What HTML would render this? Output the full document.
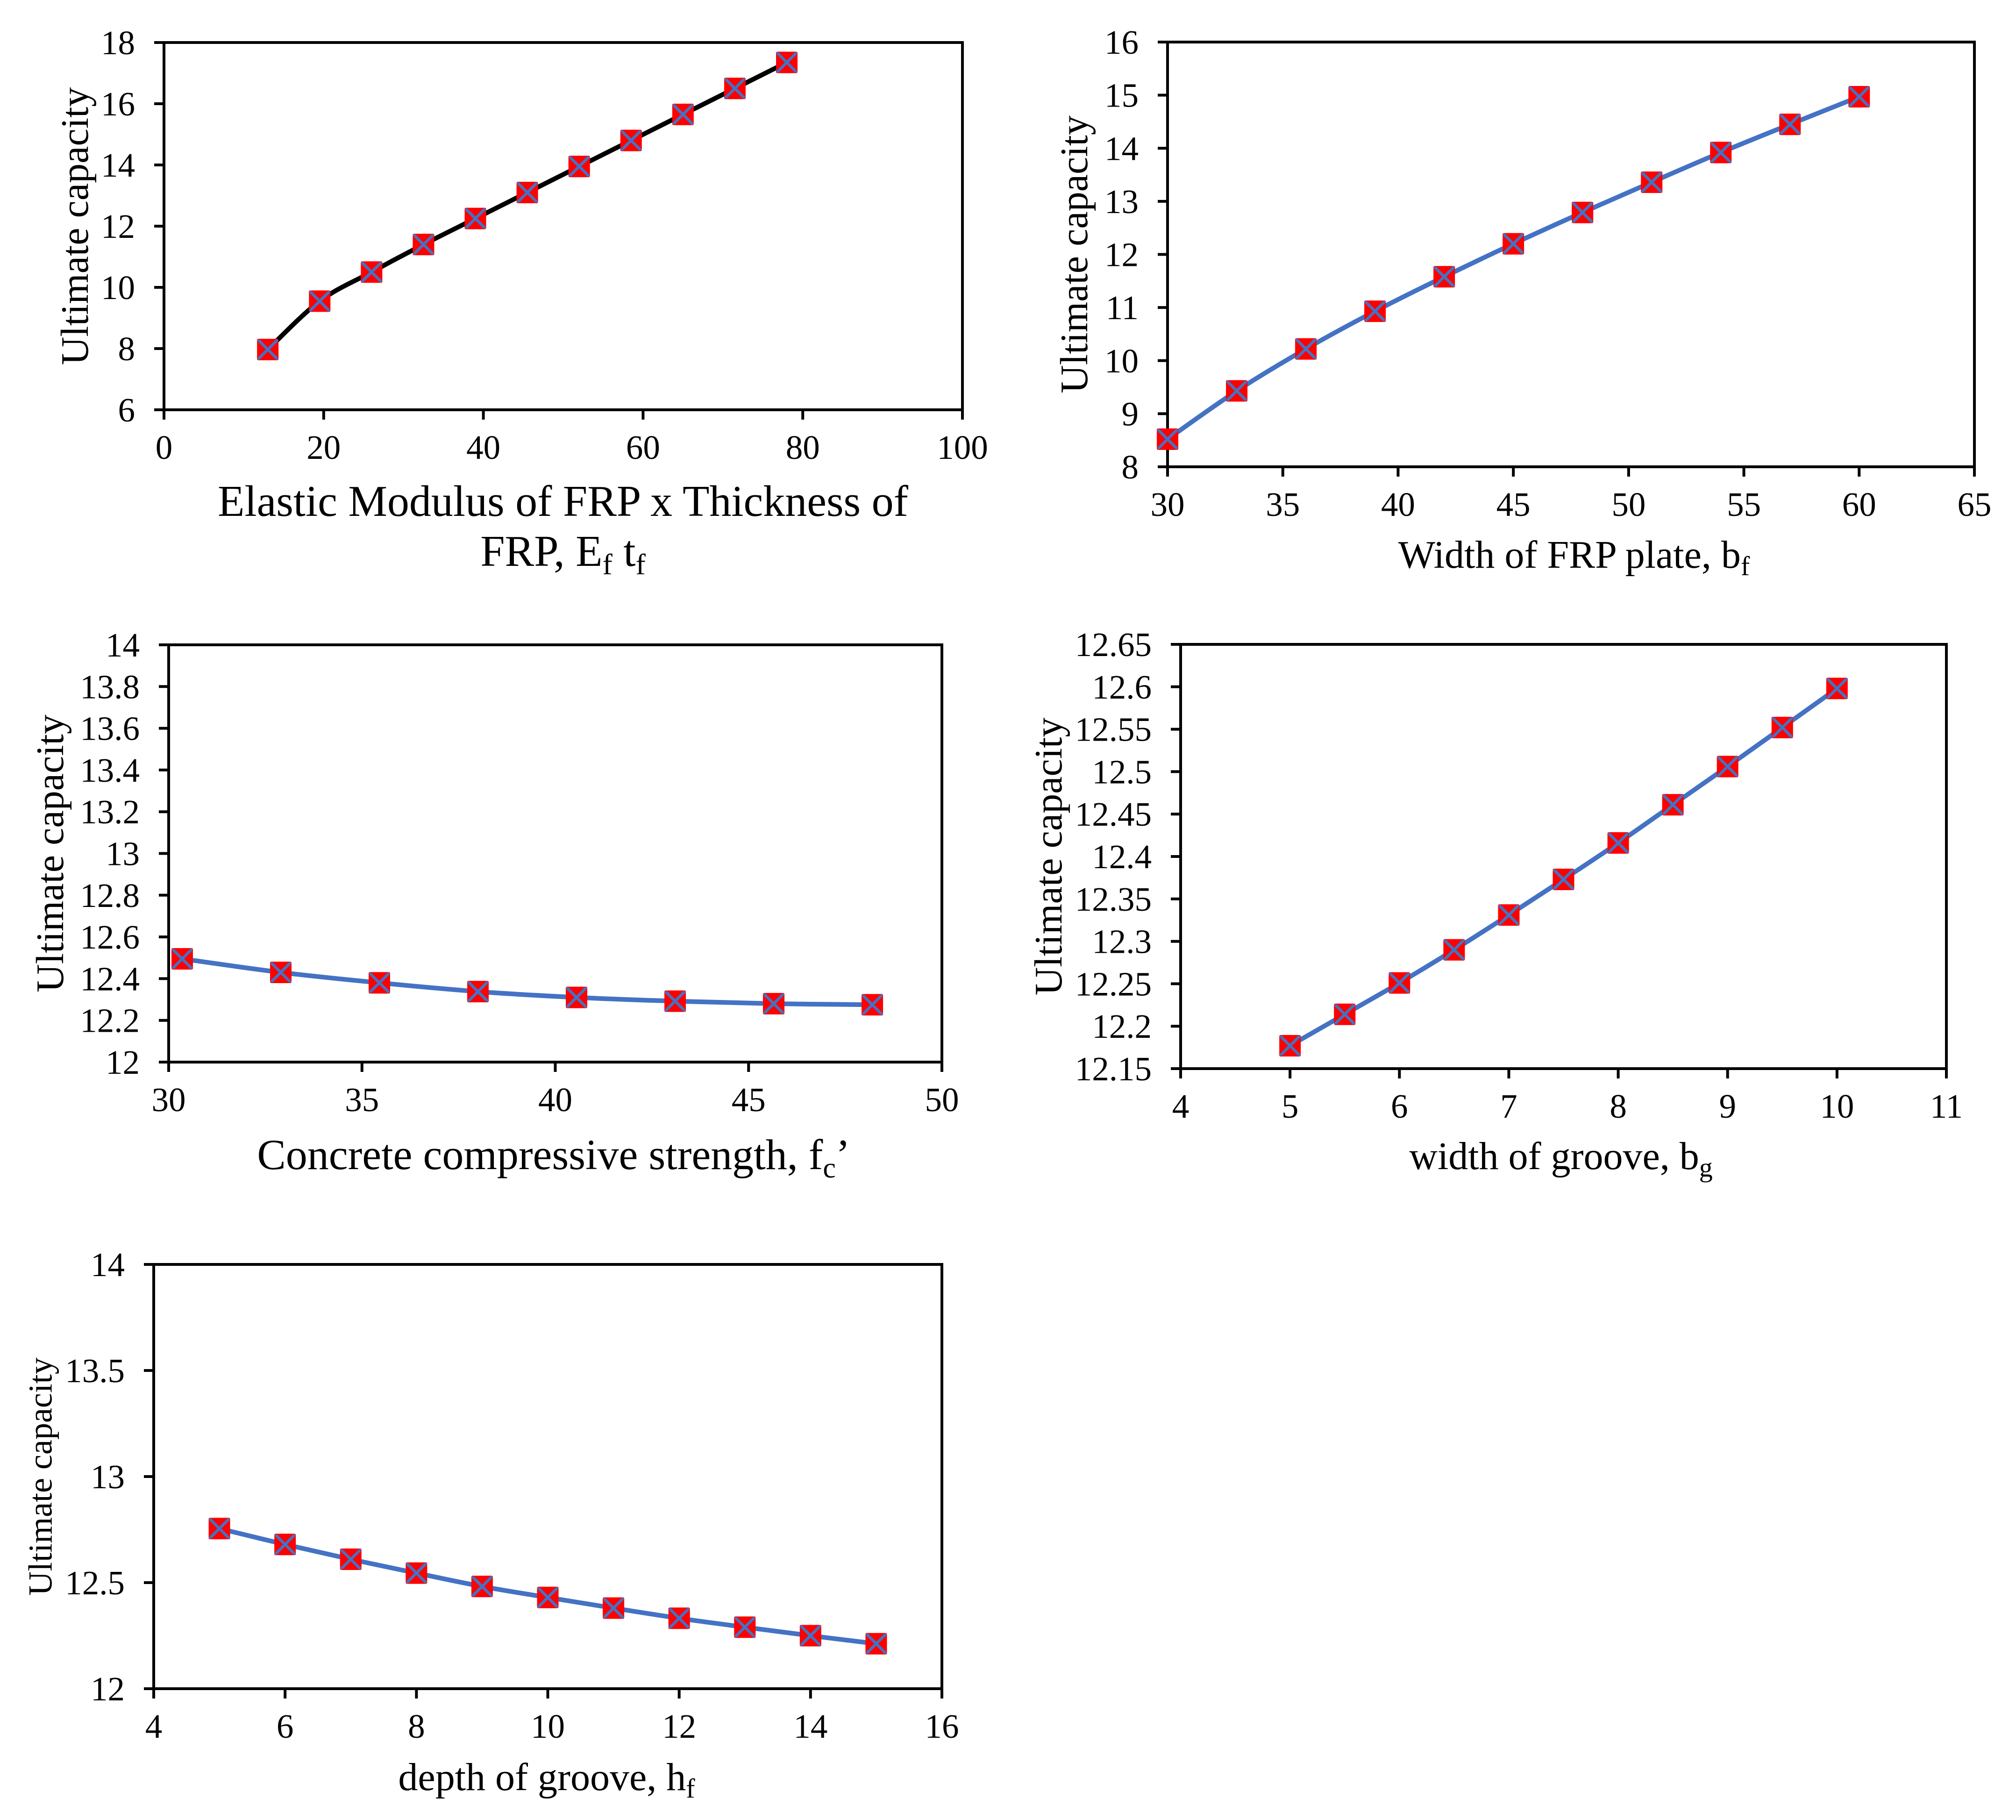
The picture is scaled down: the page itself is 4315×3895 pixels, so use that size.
<!DOCTYPE html>
<html><head><meta charset="utf-8"><style>
html,body{margin:0;padding:0;background:#fff;}
svg{display:block;}
text{font-family:"Liberation Serif",serif;fill:#000;}
</style></head><body>
<svg id="fig" width="4315" height="3895" viewBox="0 0 4315 3895" xmlns="http://www.w3.org/2000/svg"></svg>
<script>
// Chart 1 data
const c1X = [13, 19.5, 26, 32.5, 39, 45.5, 52, 58.5, 65, 71.5, 78];
const c1Y = [7.97, 9.55, 10.5, 11.4, 12.25, 13.1, 13.95, 14.8, 15.65, 16.5, 17.35];
const c1XTicks = [0, 20, 40, 60, 80, 100];
const c1YTicks = [6, 8, 10, 12, 14, 16, 18];
// Chart 2 data
const c2X = [30, 33, 36, 39, 42, 45, 48, 51, 54, 57, 60];
const c2Y = [8.52, 9.43, 10.22, 10.93, 11.58, 12.2, 12.79, 13.36, 13.92, 14.45, 14.97];
const c2XTicks = [30, 35, 40, 45, 50, 55, 60, 65];
const c2YTicks = [8, 9, 10, 11, 12, 13, 14, 15, 16];
// Chart 3 data
const c3X = [30.35, 32.9, 35.45, 38, 40.55, 43.1, 45.65, 48.2];
const c3Y = [12.495, 12.43, 12.38, 12.338, 12.31, 12.292, 12.28, 12.275];
const c3XTicks = [30, 35, 40, 45, 50];
const c3YTicks = ["12", "12.2", "12.4", "12.6", "12.8", "13", "13.2", "13.4", "13.6", "13.8", "14"];
// Chart 4 data
const c4X = [5, 5.5, 6, 6.5, 7, 7.5, 8, 8.5, 9, 9.5, 10];
const c4Y = [12.177, 12.214, 12.251, 12.29, 12.331, 12.373, 12.416, 12.461, 12.506, 12.552, 12.598];
const c4XTicks = [4, 5, 6, 7, 8, 9, 10, 11];
const c4YTicks = ["12.15", "12.2", "12.25", "12.3", "12.35", "12.4", "12.45", "12.5", "12.55", "12.6", "12.65"];
// Chart 5 data
const c5X = [5, 6, 7, 8, 9, 10, 11, 12, 13, 14, 15];
const c5Y = [12.755, 12.68, 12.61, 12.545, 12.482, 12.43, 12.38, 12.332, 12.29, 12.25, 12.212];
const c5XTicks = [4, 6, 8, 10, 12, 14, 16];
const c5YTicks = ["12", "12.5", "13", "13.5", "14"];

const NS = "http://www.w3.org/2000/svg";
const fig = document.getElementById("fig");
function mk(tag, attrs, parent) {
  const e = document.createElementNS(NS, tag);
  for (const k in attrs) e.setAttribute(k, attrs[k]);
  parent.appendChild(e);
  return e;
}

function chart(cfg) {
  const g = mk("g", {}, fig);
  
  
  const L = cfg.L, R = cfg.R, T = cfg.T, B = cfg.B;
  const xMin = +cfg.xt[0], xMax = +cfg.xt[cfg.xt.length - 1];
  const yMin = +cfg.yt[0], yMax = +cfg.yt[cfg.yt.length - 1];
  const sx = v => L + (v - xMin) / (xMax - xMin) * (R - L);
  const sy = v => B - (v - yMin) / (yMax - yMin) * (B - T);
  const frame = mk("rect", {x: L, y: T, width: R - L, height: B - T, fill: "none", stroke: "#000", "stroke-width": 6}, g);
  
  
  cfg.yt.forEach(t => {
    const y = sy(+t);
    const tk = mk("line", {x1: L - 21, x2: L, y1: y, y2: y, stroke: "#000", "stroke-width": 6}, g);
    
    
    const tx = mk("text", {x: L - 62, y: y + 25, "font-size": 73, "text-anchor": "end"}, g);
    tx.textContent = t;
    
    
  });
  cfg.xt.forEach(t => {
    const x = sx(+t);
    const tk = mk("line", {x1: x, x2: x, y1: B, y2: B + 21, stroke: "#000", "stroke-width": 6}, g);
    
    
    const tx = mk("text", {x: x, y: B + 105, "font-size": 73, "text-anchor": "middle"}, g);
    tx.textContent = t;
    
    
  });
  const pts = cfg.xs.map((v, i) => [sx(v), sy(cfg.ys[i])]);
  let d = "M" + pts[0][0] + "," + pts[0][1];
  for (let i = 0; i < pts.length - 1; i++) {
    const p0 = pts[Math.max(0, i - 1)], p1 = pts[i], p2 = pts[i + 1], p3 = pts[Math.min(pts.length - 1, i + 2)];
    const k = 1 / 6;
    d += " C" + (p1[0] + (p2[0] - p0[0]) * k) + "," + (p1[1] + (p2[1] - p0[1]) * k) + " " +
      (p2[0] - (p3[0] - p1[0]) * k) + "," + (p2[1] - (p3[1] - p1[1]) * k) + " " + p2[0] + "," + p2[1];
  }
  const line = mk("path", {d: d, fill: "none", stroke: cfg.lineColor, "stroke-width": 10, "stroke-linejoin": "round"}, g);
  
  
  pts.forEach(p => {
    const m = mk("g", {}, g);
    
    
    const s = 23;
    mk("rect", {x: p[0] - s, y: p[1] - s, width: 2 * s, height: 2 * s, rx: 3, fill: "#ff0000"}, m);
    mk("path", {d: `M${p[0]-s+4},${p[1]-s+4} L${p[0]+s-4},${p[1]+s-4} M${p[0]+s-4},${p[1]-s+4} L${p[0]-s+4},${p[1]+s-4}`, stroke: "#4472c4", "stroke-width": 6, "stroke-linecap": "round"}, m);
  });
  const yl = mk("text", {x: 0, y: 0, "font-size": cfg.ylSize, "text-anchor": "middle", transform: `translate(${cfg.ylX + cfg.ylSize * 0.3},${(T + B) / 2}) rotate(-90)`}, g);
  yl.textContent = "Ultimate capacity";
  
  
  cfg.xTitle.forEach(line => {
    const t = mk("text", {x: line.x, y: line.y, "font-size": line.size, "text-anchor": "middle"}, g);
    t.innerHTML = line.html;
    
    
  });
}

chart({name: "chart-ef-tf", L: 351, R: 2060, T: 91, B: 877, xs: c1X, ys: c1Y, xt: c1XTicks, yt: c1YTicks, lineColor: "#000",
  ylX: 163, ylSize: 84,
  xTitle: [{x: 1205, y: 1104, size: 94, html: "Elastic Modulus of FRP x Thickness of"},
           {x: 1205, y: 1211, size: 94, html: 'FRP, E<tspan font-size="64" dy="18">f</tspan><tspan dy="-18"> t</tspan><tspan font-size="64" dy="18">f</tspan>'}]});
chart({name: "chart-bf", L: 2499, R: 4226, T: 90, B: 999, xs: c2X, ys: c2Y, xt: c2XTicks, yt: c2YTicks, lineColor: "#4472c4",
  ylX: 2302, ylSize: 84,
  xTitle: [{x: 3369, y: 1215, size: 84, html: 'Width of FRP plate, b<tspan font-size="58" dy="16">f</tspan>'}]});
chart({name: "chart-fc", L: 361, R: 2016, T: 1380, B: 2273, xs: c3X, ys: c3Y, xt: c3XTicks, yt: c3YTicks, lineColor: "#4472c4",
  ylX: 110, ylSize: 84,
  xTitle: [{x: 1185, y: 2502, size: 92, html: 'Concrete compressive strength, f<tspan font-size="62" dy="18">c</tspan><tspan dy="-18">’</tspan>'}]});
chart({name: "chart-bg", L: 2527, R: 4166, T: 1379, B: 2287, xs: c4X, ys: c4Y, xt: c4XTicks, yt: c4YTicks, lineColor: "#4472c4",
  ylX: 2247, ylSize: 84,
  xTitle: [{x: 3341, y: 2502, size: 84, html: 'width of groove, b<tspan font-size="58" dy="16">g</tspan>'}]});
chart({name: "chart-hf", L: 329, R: 2016, T: 2706, B: 3614, xs: c5X, ys: c5Y, xt: c5XTicks, yt: c5YTicks, lineColor: "#4472c4",
  ylX: 89, ylSize: 72,
  xTitle: [{x: 1170, y: 3831, size: 84, html: 'depth of groove, h<tspan font-size="58" dy="16">f</tspan>'}]});
</script>
</body></html>
